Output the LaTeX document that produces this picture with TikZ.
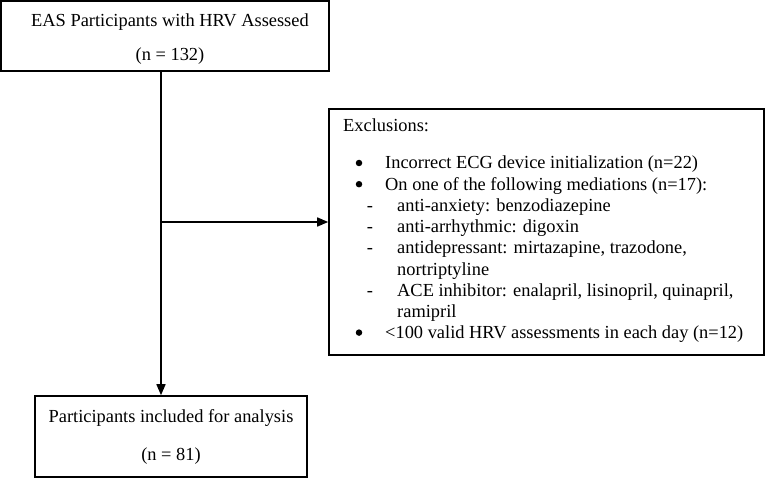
\documentclass[tikz,border=0pt]{standalone}
\usepackage{fontspec}
\setmainfont{Liberation Serif}
\usetikzlibrary{arrows.meta}
\begin{document}
\begin{tikzpicture}[x=1pt,y=1pt,
  box/.style={draw, line width=1.6pt, inner sep=0pt},
  txt/.style={font=\fontsize{18.4}{21.2}\selectfont, inner sep=0pt, anchor=base},
  ltxt/.style={txt, anchor=base west},
  bul/.style={circle, fill, inner sep=0pt, minimum size=6.5pt},
  conn/.style={line width=1.6pt, -{Triangle[length=11pt,width=9pt]}}]
\useasboundingbox (0,0) rectangle (767,-478);
% boxes
\node[box, minimum width=328pt, minimum height=70pt] (top) at (165,-36) {};
\node[box, minimum width=272pt, minimum height=81pt] (bot) at (171,-436.5) {};
\node[box, minimum width=435pt, minimum height=246pt] (excl) at (546.5,-232) {};
% top box text
\node[txt] (t1) at (170,-26.7) {EAS Participants with HRV Assessed};
\node[txt] (t2) at (170,-61) {(n = 132)};
% bottom box text
\node[txt] (b1) at (171,-422) {Participants included for analysis};
\node[txt] (b2) at (171,-460) {(n = 81)};
% exclusion text
\node[ltxt] (e0) at (343,-132) {Exclusions:};
\node[bul] (k1) at (359,-163) {};
\node[ltxt] (e1) at (385,-169) {Incorrect ECG device initialization (n=22)};
\node[bul] (k2) at (359,-184.2) {};
\node[ltxt] (e2) at (385,-190.2) {On one of the following mediations (n=17):};
\node[txt] (d1) at (370,-211.4) {-};
\node[ltxt] (e3) at (397,-211.4) {anti-anxiety: benzodiazepine};
\node[txt] (d2) at (370,-232.6) {-};
\node[ltxt] (e4) at (397,-232.6) {anti-arrhythmic: digoxin};
\node[txt] (d3) at (370,-253.8) {-};
\node[ltxt] (e5) at (397,-253.8) {antidepressant: mirtazapine, trazodone,};
\node[ltxt] (e6) at (397,-275) {nortriptyline};
\node[txt] (d4) at (370,-296.2) {-};
\node[ltxt] (e7) at (397,-296.2) {ACE inhibitor: enalapril, lisinopril, quinapril,};
\node[ltxt] (e8) at (397,-317.4) {ramipril};
\node[bul] (k3) at (359,-332.6) {};
\node[ltxt] (e9) at (385,-338.6) {<100 valid HRV assessments in each day (n=12)};
% connectors
\coordinate (s) at (161,-222);
\draw[conn] (top.south -| s) -- (bot.north -| s);
\draw[conn] (s) -- (excl.west |- s);
\end{tikzpicture}
\end{document}
